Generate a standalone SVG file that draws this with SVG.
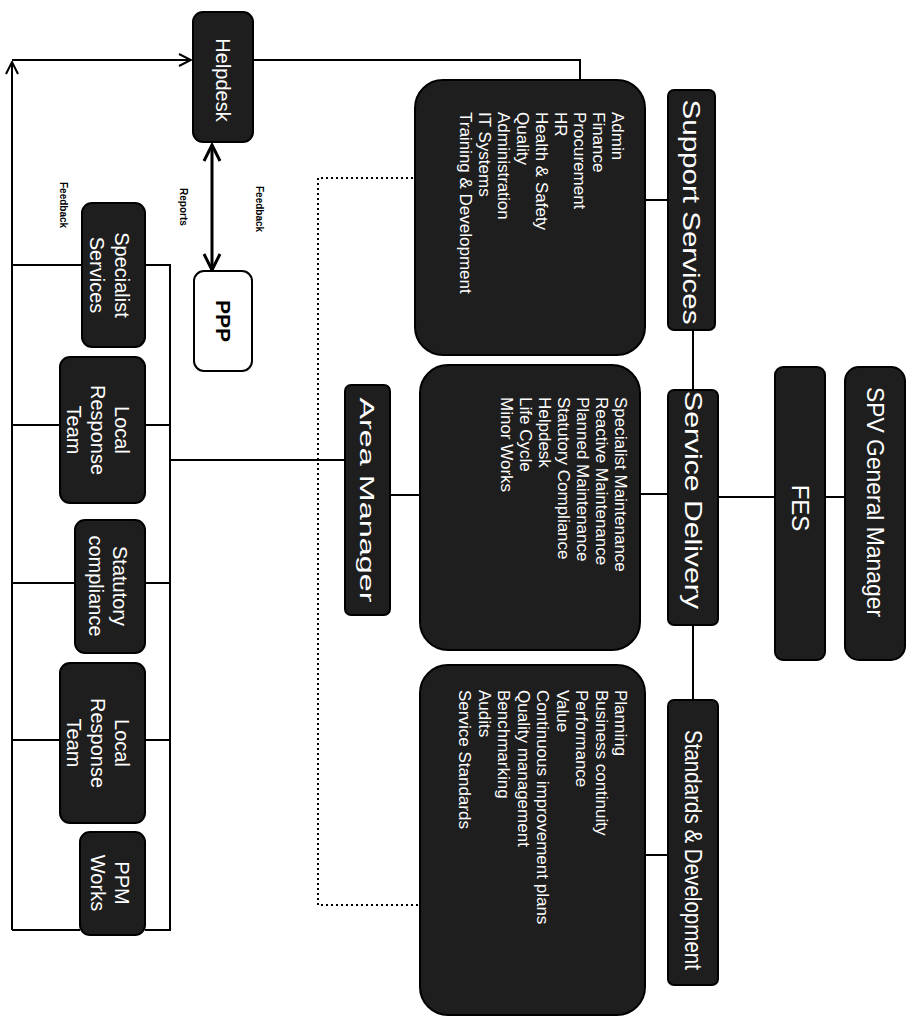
<svg xmlns="http://www.w3.org/2000/svg" width="912" height="1023" viewBox="0 0 912 1023">
<style>
.box{fill:#1e1e1e;stroke:#000;stroke-width:2}
.wbox{fill:#fff;stroke:#000;stroke-width:2}
.t{font-family:"Liberation Sans",Arial,sans-serif;fill:#fff}
.h{font-size:24px}
.s{font-size:20px}
.l{font-size:17px}
.lbl{font-family:"Liberation Sans",Arial,sans-serif;font-size:10px;font-weight:bold;fill:#000}
.ln{stroke:#000;stroke-width:2;fill:none}
.dot{stroke:#000;stroke-width:2;fill:none;stroke-dasharray:2 3}
</style>
<defs>
<marker id="ah" viewBox="0 0 14 14" refX="13" refY="7" markerWidth="14" markerHeight="14" markerUnits="userSpaceOnUse" orient="auto-start-reverse">
<path d="M1,1 L13,7 L1,13" fill="none" stroke="#000" stroke-width="2"/>
</marker>
<marker id="ah2" viewBox="0 0 20 20" refX="18" refY="10" markerWidth="20" markerHeight="20" markerUnits="userSpaceOnUse" orient="auto-start-reverse">
<path d="M2,2 L18,10 L2,18" fill="none" stroke="#000" stroke-width="3"/>
</marker>
</defs>
<g id="connectors">
<polyline class="ln" points="12,930 12,62" marker-end="url(#ah)"/>
<polyline class="ln" points="12,60 191,60" marker-end="url(#ah)"/>
<line class="ln" x1="12" y1="265" x2="82" y2="265"/>
<line class="ln" x1="12" y1="425" x2="60" y2="425"/>
<line class="ln" x1="12" y1="583" x2="75" y2="583"/>
<line class="ln" x1="12" y1="740" x2="60" y2="740"/>
<line class="ln" x1="12" y1="930" x2="80" y2="930"/>
<polyline class="ln" points="145,265 170,265 170,930 145,930"/>
<line class="ln" x1="145" y1="425" x2="170" y2="425"/>
<line class="ln" x1="145" y1="583" x2="170" y2="583"/>
<line class="ln" x1="145" y1="740" x2="170" y2="740"/>
<line class="ln" x1="170" y1="460" x2="345" y2="460"/>
<line class="ln" x1="390" y1="495" x2="420" y2="495"/>
<polyline class="ln" points="252,60 580,60 580,80"/>
<line stroke="#000" stroke-width="3" x1="212" y1="145" x2="212" y2="270" marker-start="url(#ah2)" marker-end="url(#ah2)"/>
<polyline class="dot" points="413,178 318,178 318,905 420,905"/>
<line class="ln" x1="645" y1="200" x2="668" y2="200"/>
<line class="ln" x1="693" y1="330" x2="693" y2="390"/>
<line class="ln" x1="640" y1="494" x2="668" y2="494"/>
<line class="ln" x1="693" y1="625" x2="693" y2="700"/>
<line class="ln" x1="645" y1="855" x2="668" y2="855"/>
<line class="ln" x1="718" y1="497" x2="775" y2="497"/>
<line class="ln" x1="825" y1="497" x2="845" y2="497"/>
</g>
<g id="helpdesk"><rect class="box" x="193" y="12" width="60" height="130" rx="10"/><text class="t s" transform="translate(223,80) rotate(90)" text-anchor="middle" dominant-baseline="central">Helpdesk</text></g>
<g id="ppp"><rect class="wbox" x="194" y="271" width="58" height="100" rx="10"/><text class="lbl" style="font-size:21px" transform="translate(223,321) rotate(90)" text-anchor="middle" dominant-baseline="central">PPP</text></g>
<g id="labels">
<text class="lbl" transform="translate(180,188) rotate(90)">Reports</text>
<text class="lbl" transform="translate(256,186) rotate(90)">Feedback</text>
<text class="lbl" transform="translate(60,182) rotate(90)">Feedback</text>
</g>
<g id="specialist"><rect class="box" x="82" y="203" width="63" height="144" rx="10"/><text class="t s" transform="translate(110,275) rotate(90)" text-anchor="middle"><tspan x="0" dy="-5">Specialist</tspan><tspan x="0" dy="25">Services</tspan></text></g>
<g id="lrt1"><rect class="box" x="60" y="357" width="85" height="146" rx="10"/><text class="t s" transform="translate(98,430) rotate(90)" text-anchor="middle"><tspan x="0" dy="-17">Local</tspan><tspan x="0" dy="24">Response</tspan><tspan x="0" dy="24">Team</tspan></text></g>
<g id="statutory"><rect class="box" x="75" y="520" width="70" height="133" rx="10"/><text class="t s" transform="translate(108,586) rotate(90)" text-anchor="middle"><tspan x="0" dy="-5">Statutory</tspan><tspan x="0" dy="24">compliance</tspan></text></g>
<g id="lrt2"><rect class="box" x="60" y="663" width="85" height="160" rx="10"/><text class="t s" transform="translate(98,743) rotate(90)" text-anchor="middle"><tspan x="0" dy="-17">Local</tspan><tspan x="0" dy="24">Response</tspan><tspan x="0" dy="24">Team</tspan></text></g>
<g id="ppm"><rect class="box" x="80" y="832" width="65" height="103" rx="10"/><text class="t s" transform="translate(110,883) rotate(90)" text-anchor="middle"><tspan x="0" dy="-5">PPM</tspan><tspan x="0" dy="24">Works</tspan></text></g>
<g id="area"><rect class="box" x="345" y="385" width="45" height="230" rx="6"/><text class="t" style="font-size:21px" transform="translate(367,500) rotate(90)" text-anchor="middle" dominant-baseline="central" textLength="205" lengthAdjust="spacingAndGlyphs">Area Manager</text></g>
<g id="list1"><rect class="box" x="415" y="80" width="230" height="275" rx="28"/><text class="t l" transform="translate(612,112) rotate(90)"><tspan x="0" dy="0">Admin</tspan><tspan x="0" dy="19">Finance</tspan><tspan x="0" dy="19">Procurement</tspan><tspan x="0" dy="19">HR</tspan><tspan x="0" dy="19">Health &amp; Safety</tspan><tspan x="0" dy="19">Quality</tspan><tspan x="0" dy="19">Administration</tspan><tspan x="0" dy="19">IT Systems</tspan><tspan x="0" dy="19">Training &amp; Development</tspan></text></g>
<g id="list2"><rect class="box" x="420" y="365" width="220" height="285" rx="28"/><text class="t l" transform="translate(615,397) rotate(90)"><tspan x="0" dy="0">Specialist Maintenance</tspan><tspan x="0" dy="19">Reactive Maintenance</tspan><tspan x="0" dy="19">Planned Maintenance</tspan><tspan x="0" dy="19">Statutory Compliance</tspan><tspan x="0" dy="19">Helpdesk</tspan><tspan x="0" dy="19">Life Cycle</tspan><tspan x="0" dy="19">Minor Works</tspan></text></g>
<g id="list3"><rect class="box" x="420" y="665" width="225" height="350" rx="28"/><text class="t l" transform="translate(615,690) rotate(90)"><tspan x="0" dy="0">Planning</tspan><tspan x="0" dy="19.5">Business continuity</tspan><tspan x="0" dy="19.5">Performance</tspan><tspan x="0" dy="19.5">Value</tspan><tspan x="0" dy="19.5">Continuous improvement plans</tspan><tspan x="0" dy="19.5">Quality management</tspan><tspan x="0" dy="19.5">Benchmarking</tspan><tspan x="0" dy="19.5">Audits</tspan><tspan x="0" dy="19.5">Service Standards</tspan></text></g>
<g id="support"><rect class="box" x="668" y="90" width="47" height="240" rx="6"/><text class="t h" transform="translate(691,212) rotate(90)" text-anchor="middle" dominant-baseline="central" textLength="225" lengthAdjust="spacingAndGlyphs">Support Services</text></g>
<g id="delivery"><rect class="box" x="668" y="390" width="50" height="235" rx="6"/><text class="t h" transform="translate(693,500) rotate(90)" text-anchor="middle" dominant-baseline="central" textLength="218" lengthAdjust="spacingAndGlyphs">Service Delivery</text></g>
<g id="standards"><rect class="box" x="668" y="700" width="50" height="285" rx="6"/><text class="t h" transform="translate(693,850) rotate(90)" text-anchor="middle" dominant-baseline="central" textLength="240" lengthAdjust="spacingAndGlyphs">Standards &amp; Development</text></g>
<g id="fes"><rect class="box" x="775" y="367" width="50" height="293" rx="8"/><text class="t h" transform="translate(800,508) rotate(90)" text-anchor="middle" dominant-baseline="central">FES</text></g>
<g id="spv"><rect class="box" x="845" y="367" width="60" height="293" rx="14"/><text class="t h" transform="translate(875,502) rotate(90)" text-anchor="middle" dominant-baseline="central" textLength="230" lengthAdjust="spacingAndGlyphs">SPV General Manager</text></g>
</svg>
